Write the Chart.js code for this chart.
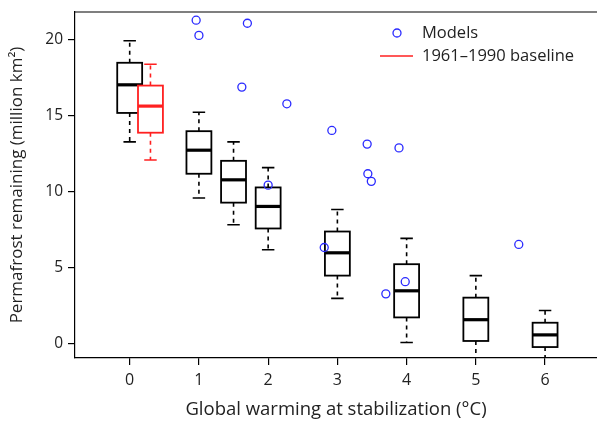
<!DOCTYPE html>
<html>
<head>
<meta charset="utf-8">
<script src="https://cdn.jsdelivr.net/npm/chart.js@4"></script>
<style>
  html, body { margin: 0; padding: 0; background: #fff; }
  #wrap { width: 597px; height: 423px; }
</style>
</head>
<body>
<div id="wrap"><canvas id="permafrostChart"></canvas></div>
<script>
// Box plot summaries (million km2)
const boxPositions = [0, 1, 1.5, 2, 3, 4, 5, 6];
const whiskerLow = [13.3, 9.6, 7.85, 6.2, 3.0, 0.1, -1.5, -1.5];
const quartileLow = [15.2, 11.2, 9.3, 7.6, 4.5, 1.75, 0.2, -0.2];
const medians = [17.05, 12.75, 10.8, 9.05, 6.0, 3.5, 1.6, 0.6];
const quartileHigh = [18.5, 14.0, 12.05, 10.3, 7.4, 5.25, 3.05, 1.4];
const whiskerHigh = [19.95, 15.25, 13.3, 11.6, 8.85, 6.95, 4.5, 2.2];

// 1961-1990 baseline box, drawn next to the 0 degC box
const baselinePosition = 0.3;
const baselineBox = [12.1, 13.9, 15.65, 17.0, 18.4]; // low, q1, median, q3, high

// Individual model results
const modelX = [0.96, 1.0, 1.7, 1.62, 2.27, 2.0, 2.92, 3.43, 3.89, 3.44, 3.49, 2.81, 3.98, 3.7, 5.62];
const modelY = [21.3, 20.3, 21.1, 16.9, 15.8, 10.45, 14.05, 13.15, 12.9, 11.2, 10.7, 6.35, 4.1, 3.3, 6.55];

const xTicks = [0, 1, 2, 3, 4, 5, 6];
const yTicks = [0, 5, 10, 15, 20];

const FONT = '"Open Sans", "DejaVu Sans", sans-serif';
const TEXT = '#222';
const BOX_HALF = 0.18;
const CAP_HALF = 0.09;

function drawBox(ctx, x, y, pos, v, color) {
    const [lo, q1, med, q3, hi] = v;
    const xl = x.getPixelForValue(pos - BOX_HALF);
    const xr = x.getPixelForValue(pos + BOX_HALF);
    const xc = x.getPixelForValue(pos);
    const cl = x.getPixelForValue(pos - CAP_HALF);
    const cr = x.getPixelForValue(pos + CAP_HALF);

    ctx.strokeStyle = color;
    // whiskers
    ctx.lineWidth = 1.6;
    ctx.setLineDash([4, 4]);
    ctx.beginPath();
    ctx.moveTo(xc, y.getPixelForValue(q3));
    ctx.lineTo(xc, y.getPixelForValue(hi));
    ctx.moveTo(xc, y.getPixelForValue(q1));
    ctx.lineTo(xc, y.getPixelForValue(lo));
    ctx.stroke();
    ctx.setLineDash([]);
    // caps
    ctx.beginPath();
    ctx.moveTo(cl, y.getPixelForValue(hi));
    ctx.lineTo(cr, y.getPixelForValue(hi));
    ctx.moveTo(cl, y.getPixelForValue(lo));
    ctx.lineTo(cr, y.getPixelForValue(lo));
    ctx.stroke();
    // box
    ctx.lineWidth = 1.8;
    const yt = y.getPixelForValue(q3);
    const yb = y.getPixelForValue(q1);
    ctx.fillStyle = '#fff';
    ctx.fillRect(xl, yt, xr - xl, yb - yt);
    ctx.strokeRect(xl, yt, xr - xl, yb - yt);
    // median
    ctx.lineWidth = 3.2;
    ctx.beginPath();
    ctx.moveTo(xl, y.getPixelForValue(med));
    ctx.lineTo(xr, y.getPixelForValue(med));
    ctx.stroke();
}

const boxPlugin = {
    id: 'boxes',
    beforeDatasetsDraw(chart) {
        const { ctx, chartArea: a, scales: { x, y } } = chart;
        ctx.save();
        ctx.beginPath();
        ctx.rect(a.left, a.top, a.right - a.left, a.bottom - a.top);
        ctx.clip();
        boxPositions.forEach((p, i) => {
            drawBox(ctx, x, y, p, [whiskerLow[i], quartileLow[i], medians[i], quartileHigh[i], whiskerHigh[i]], '#000');
        });
        drawBox(ctx, x, y, baselinePosition, baselineBox, '#ff2020');
        ctx.restore();
    },
    afterDraw(chart) {
        const { ctx, chartArea: a } = chart;
        ctx.save();
        // frame: top line
        ctx.strokeStyle = '#000';
        ctx.lineWidth = 1.2;
        ctx.beginPath();
        ctx.moveTo(a.left, a.top);
        ctx.lineTo(a.right, a.top);
        ctx.stroke();
        // legend
        ctx.font = '16.5px ' + FONT;
        ctx.fillStyle = TEXT;
        ctx.textBaseline = 'middle';
        ctx.fillText('Models', 422, 33);
        ctx.fillText('1961\u20131990 baseline', 422, 56);
        ctx.strokeStyle = '#2a2aff';
        ctx.lineWidth = 1.3;
        ctx.beginPath();
        ctx.arc(397, 33, 4, 0, Math.PI * 2);
        ctx.stroke();
        ctx.strokeStyle = '#ff2020';
        ctx.lineWidth = 1.3;
        ctx.beginPath();
        ctx.moveTo(380, 56);
        ctx.lineTo(413, 56);
        ctx.stroke();
        ctx.restore();
    }
};

const ctx = document.getElementById('permafrostChart').getContext('2d');
new Chart(ctx, {
    type: 'scatter',
    data: {
        datasets: [{
            label: 'Models',
            data: modelX.map((v, i) => ({ x: v, y: modelY[i] })),
            pointStyle: 'circle',
            pointRadius: 4,
            pointBorderWidth: 1.3,
            pointBorderColor: '#2a2aff',
            pointBackgroundColor: 'rgba(0,0,0,0)',
            clip: false
        }]
    },
    options: {
        responsive: true,
        maintainAspectRatio: false,
        animation: false,
        layout: { autoPadding: false, padding: { top: 12, right: 0, left: 0, bottom: 0 } },
        scales: {
            x: {
                type: 'linear',
                min: -0.79,
                max: 6.75,
                afterBuildTicks: s => { s.ticks = xTicks.map(v => ({ value: v })); },
                afterFit: s => { s.height = 65; s.paddingLeft = 0; s.paddingRight = 0; },
                grid: { display: true, drawOnChartArea: false, drawTicks: true, tickLength: 7, color: '#000', lineWidth: 1.2 },
                border: { display: true, color: '#000', width: 1.2 },
                ticks: { font: { family: FONT, size: 16 }, color: TEXT, padding: 6, maxRotation: 0 },
                title: {
                    display: true,
                    text: 'Global warming at stabilization (\u00B0C)',
                    font: { family: FONT, size: 18.5 },
                    color: TEXT,
                    padding: { top: 0, bottom: 2 }
                }
            },
            y: {
                type: 'linear',
                min: -0.92,
                max: 21.84,
                afterBuildTicks: s => { s.ticks = yTicks.map(v => ({ value: v })); },
                afterFit: s => { s.width = 75; s.paddingTop = 0; s.paddingBottom = 0; },
                grid: { display: true, drawOnChartArea: false, drawTicks: true, tickLength: 7, color: '#000', lineWidth: 1.2 },
                border: { display: true, color: '#000', width: 1.2 },
                ticks: { font: { family: FONT, size: 15.5 }, color: TEXT, padding: 5 },
                title: {
                    display: true,
                    text: 'Permafrost remaining (million km\u00B2)',
                    font: { family: FONT, size: 17 },
                    color: TEXT,
                    padding: { top: 7, bottom: 0 }
                }
            }
        },
        plugins: {
            legend: { display: false },
            tooltip: { enabled: false }
        }
    },
    plugins: [boxPlugin]
});
</script>
</body>
</html>
